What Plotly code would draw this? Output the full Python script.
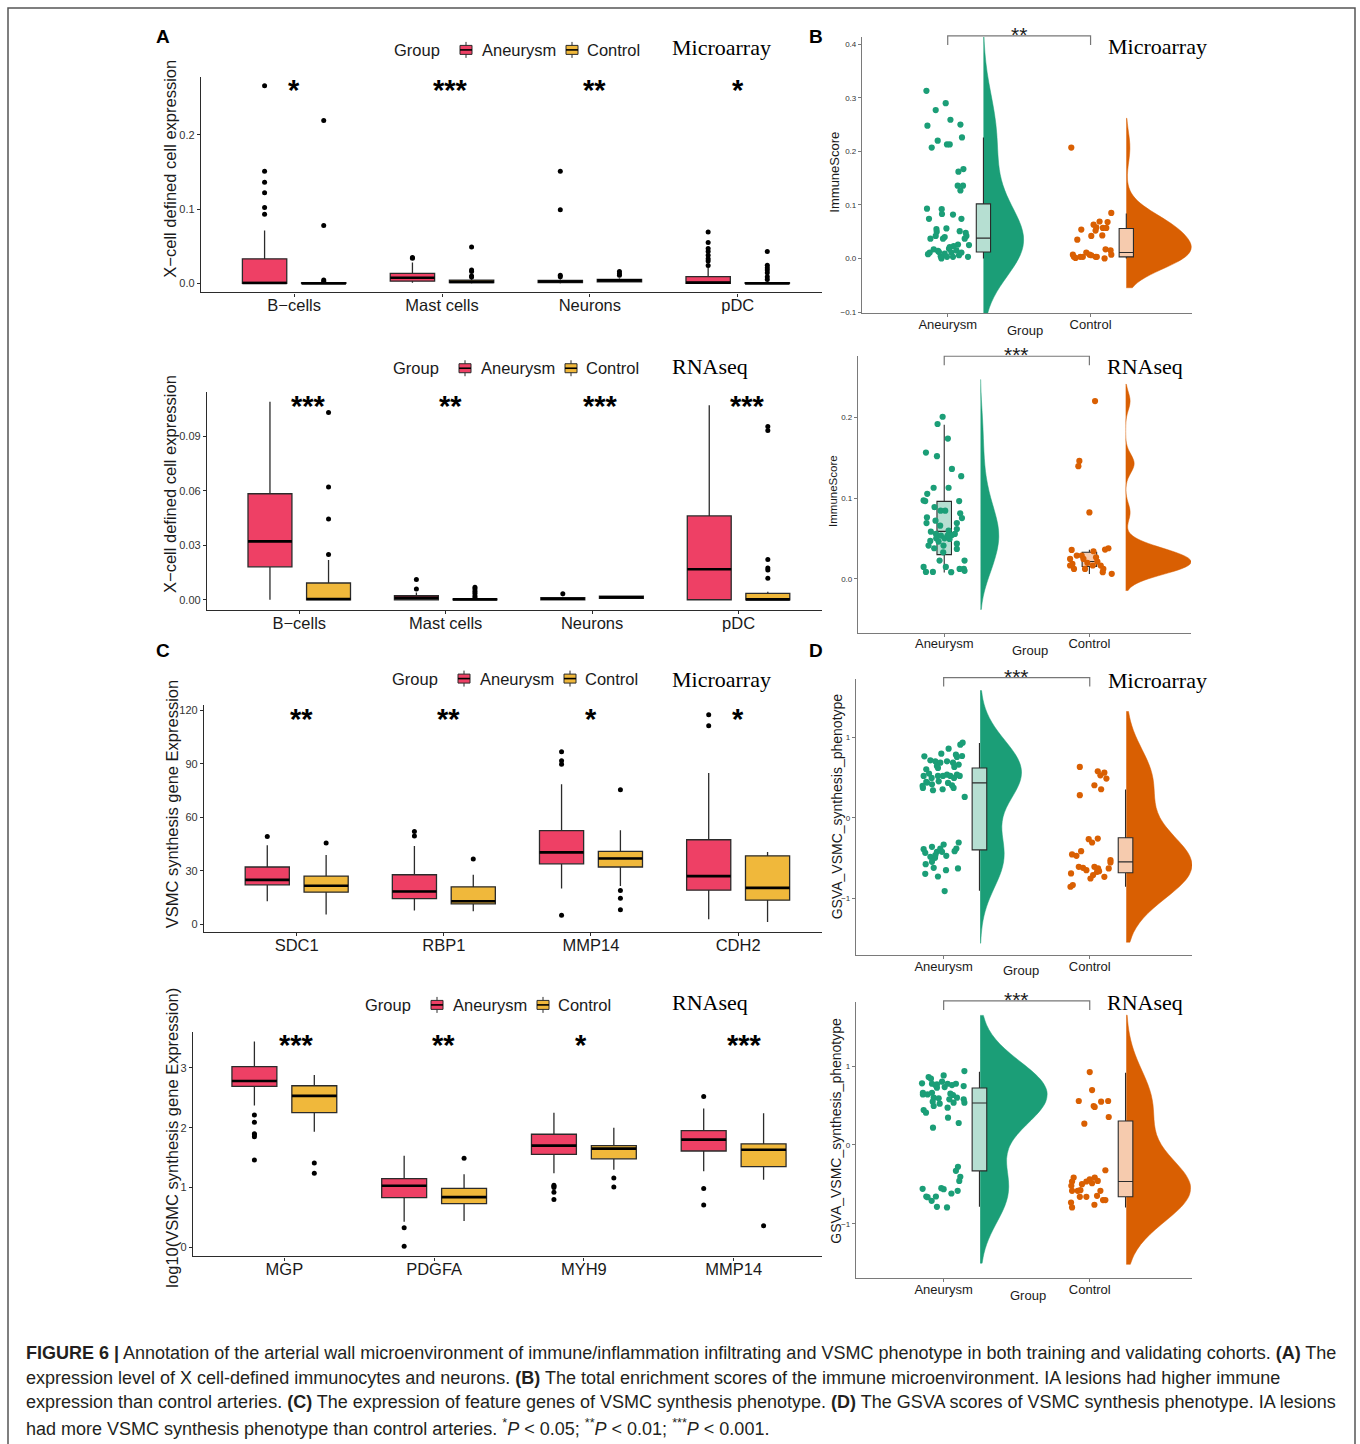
import numpy as np
import plotly.graph_objects as go

# ======================= DATA =======================
# Box panels: each group stat tuple = (lower whisker, q1, median, q3, upper whisker)
A1_CATS = ["B−cells", "Mast cells", "Neurons", "pDC"]
A1_AN = [(0.0, 0.0, 0.0005, 0.033, 0.071), (0.001, 0.003, 0.0076, 0.0134, 0.028),
         (0.0, 0.001, 0.0025, 0.004, 0.0055), (0.0, 0.0, 0.001, 0.009, 0.0215)]
A1_AN_OUT = [[0.266, 0.151, 0.136, 0.122, 0.102, 0.093], [0.035, 0.034],
             [0.151, 0.099, 0.011, 0.009], [0.069, 0.055, 0.047, 0.043, 0.038, 0.033, 0.030, 0.024]]
A1_CT = [(0.0, 0.0, 0.0, 0.001, 0.002), (0.0, 0.001, 0.002, 0.0045, 0.007),
         (0.0015, 0.0022, 0.004, 0.0054, 0.007), (0.0, 0.0, 0.0, 0.001, 0.002)]
A1_CT_OUT = [[0.219, 0.078, 0.0045, 0.003], [0.049, 0.018, 0.016, 0.010, 0.0085],
             [0.016, 0.013, 0.011], [0.043, 0.0245, 0.021, 0.018, 0.0143, 0.009, 0.0054]]
A1_SIG = ["*", "***", "**", "*"]
A1_YTICKS = [0.0, 0.1, 0.2]

A2_CATS = ["B−cells", "Mast cells", "Neurons", "pDC"]
A2_AN = [(0.0, 0.0181, 0.0321, 0.0583, 0.109), (0.0, 0.0, 0.0011, 0.0022, 0.004),
         (0.0, 0.0, 0.0005, 0.0011, 0.0016), (0.0, 0.0, 0.0168, 0.0461, 0.107)]
A2_AN_OUT = [[], [0.0112, 0.0059], [0.0033], []]
A2_CT = [(0.0, 0.0, 0.0004, 0.0092, 0.0219), (0.0, 0.0, 0.0002, 0.0005, 0.001),
         (0.0007, 0.0007, 0.0013, 0.002, 0.0022), (0.0, 0.0, 0.0002, 0.0035, 0.0044)]
A2_CT_OUT = [[0.103, 0.062, 0.0444, 0.0249], [0.0068, 0.0059, 0.0046, 0.0035, 0.0022, 0.0012],
             [], [0.0953, 0.0931, 0.0221, 0.0175, 0.0164, 0.0118]]
A2_SIG = ["***", "**", "***", "***"]
A2_YTICKS = [0.0, 0.03, 0.06, 0.09]

C1_CATS = ["SDC1", "RBP1", "MMP14", "CDH2"]
C1_AN = [(12.9, 22.1, 24.9, 32.1, 44.3), (7.7, 14.4, 18.4, 27.75, 43.9),
         (20.1, 33.9, 40.3, 52.5, 78.6), (2.8, 19.1, 27.0, 47.4, 84.9)]
C1_AN_OUT = [[49.3], [52.1, 49.5], [96.75, 91.7, 89.8, 5.1], [117.6, 111.4]]
C1_CT = [(5.4, 18.0, 21.6, 27.0, 38.8), (7.3, 11.4, 12.9, 21.0, 27.75),
         (21.4, 32.1, 36.9, 40.9, 52.7), (1.3, 13.5, 20.4, 38.4, 40.5)]
C1_CT_OUT = [[45.6], [36.6], [75.4, 18.9, 14.6, 8.1], []]
C1_SIG = ["**", "**", "*", "*"]
C1_YTICKS = [0, 30, 60, 90, 120]

C2_CATS = ["MGP", "PDGFA", "MYH9", "MMP14"]
C2_AN = [(2.37, 2.69, 2.78, 3.02, 3.44), (0.43, 0.83, 1.03, 1.15, 1.53),
         (1.24, 1.555, 1.70, 1.89, 2.25), (1.27, 1.61, 1.80, 1.95, 2.32)]
C2_AN_OUT = [[2.21, 2.09, 1.90, 1.88, 1.85, 1.46], [0.33, 0.02],
             [1.04, 1.02, 1.00, 0.92, 0.80], [2.52, 0.985, 0.71]]
C2_CT = [(1.93, 2.25, 2.53, 2.70, 2.88), (0.44, 0.73, 0.84, 0.985, 1.22),
         (1.295, 1.48, 1.65, 1.70, 2.0), (1.13, 1.35, 1.63, 1.73, 2.24)]
C2_CT_OUT = [[1.41, 1.24], [1.49], [1.16, 1.01], [0.36]]
C2_SIG = ["***", "**", "*", "***"]
C2_YTICKS = [0, 1, 2, 3]

# Raincloud panels: point values and the horizontal jitter offset of each point
GROUPS = ["Aneurysm", "Control"]

B1_AN_Y = [0.313, 0.248, 0.277, 0.290, 0.259, 0.250, 0.220, 0.207, 0.213, 0.213, 0.226, 0.162, 0.167,
           0.136, 0.136, 0.127, 0.093, 0.074, 0.092, 0.083, 0.082, 0.074, 0.055, 0.050, 0.056, 0.051,
           0.048, 0.037, 0.042, 0.037, 0.040, 0.042, 0.037, 0.026, 0.025, 0.011, 0.008, 0.017, 0.014,
           0.004, 0.000, 0.009, 0.003, 0.018, 0.011, 0.003, 0.015, 0.006, 0.011, 0.003, 0.012, 0.021, 0.023]
B1_AN_DX = [-0.149, -0.142, -0.084, -0.014, 0.019, 0.089, -0.070, -0.112, -0.005, 0.014, 0.100, 0.075, 0.110,
            0.070, 0.107, 0.089, -0.145, -0.131, -0.042, -0.040, 0.037, 0.096, -0.079, -0.077, -0.009, 0.084,
            0.126, -0.121, -0.084, -0.033, -0.021, 0.131, 0.119, 0.072, 0.149, -0.126, -0.138, -0.098, -0.068,
            -0.049, -0.044, -0.021, -0.005, 0.009, 0.026, 0.037, 0.061, 0.079, 0.096, 0.142, -0.061, 0.014, 0.042]
B1_CT_Y = [0.207, 0.035, 0.054, 0.042, 0.052, 0.063, 0.069, 0.057, 0.057, 0.068, 0.085, 0.058, 0.043, 0.017,
           0.015, 0.007, 0.007, 0.003, 0.003, 0.003, 0.011, 0.007, 0.003, 0.003, 0.000, 0.001, 0.006]
B1_CT_DX = [-0.135, -0.093, -0.065, 0.005, 0.035, 0.021, 0.063, 0.086, 0.110, 0.119, 0.145, 0.040, 0.082, 0.105,
            0.140, 0.145, -0.124, -0.117, -0.072, -0.054, -0.030, -0.007, 0.035, 0.044, 0.098, -0.105, 0.005]
B1_BOX = [(0.0, 0.012, 0.038, 0.102, 0.226), (0.0, 0.003, 0.011, 0.056, 0.084)]
B1_SIG = "**"
B1_YTICKS = [-0.1, 0.0, 0.1, 0.2, 0.3, 0.4]

B2_AN_Y = [0.2008, 0.1918, 0.1737, 0.1564, 0.1519, 0.1362, 0.1272, 0.1128, 0.1128, 0.1053, 0.0971, 0.0963,
           0.0963, 0.0889, 0.0844, 0.0844, 0.0761, 0.0811, 0.0753, 0.0691, 0.0720, 0.0691, 0.0584, 0.0556,
           0.0597, 0.0617, 0.0535, 0.0543, 0.0556, 0.0502, 0.0461, 0.0502, 0.0494, 0.0469, 0.0379, 0.0370,
           0.0412, 0.0329, 0.0226, 0.0226, 0.0148, 0.0148, 0.0123, 0.0123, 0.0086, 0.0086, 0.0082, 0.0099,
           0.0535, 0.0658, 0.0412, 0.0436]
B2_AN_DX = [-0.011, -0.046, 0.025, -0.126, -0.050, 0.053, 0.117, -0.073, 0.030, -0.117, -0.142, -0.131,
            0.103, -0.067, -0.025, 0.007, -0.119, 0.110, 0.122, -0.122, -0.060, 0.087, -0.092, -0.057,
            0.030, 0.087, -0.023, 0.053, 0.073, -0.055, -0.039, 0.002, 0.037, -0.096, -0.069, 0.087,
            -0.005, -0.007, -0.032, 0.140, -0.142, 0.011, 0.106, 0.135, -0.126, -0.078, 0.048, 0.140,
            0.023, -0.028, -0.108, 0.087]
B2_CT_Y = [0.2202, 0.1461, 0.1395, 0.0823, 0.0358, 0.0247, 0.0185, 0.0123, 0.0288, 0.0288, 0.0247, 0.0198,
           0.0342, 0.0267, 0.0214, 0.0165, 0.0123, 0.0362, 0.0379, 0.0082, 0.0062, 0.0165, 0.0123, 0.0165]
B2_CT_DX = [0.039, -0.069, -0.076, 0.0, -0.122, -0.133, -0.117, -0.106, -0.087, -0.053, -0.041, -0.014,
            0.028, 0.046, 0.055, 0.078, 0.096, 0.108, 0.131, 0.092, 0.154, 0.023, -0.030, -0.133]
B2_BOX = [(0.008, 0.030, 0.0588, 0.0959, 0.191), (0.006, 0.0152, 0.0214, 0.0329, 0.036)]
B2_SIG = "***"
B2_YTICKS = [0.0, 0.1, 0.2]

D1_AN_Y = [0.766, 0.716, 0.704, 0.799, 0.861, 0.787, 0.911, 0.936, 0.770, 0.758, 0.687, 0.704, 0.687, 0.646,
           0.621, 0.605, 0.522, 0.551, 0.497, 0.447, 0.418, 0.522, 0.522, 0.538, 0.522, 0.497, 0.538, 0.522,
           0.398, 0.373, 0.439, 0.344, 0.455, 0.356, 0.435, 0.406, 0.373, 0.261, 0.634, 0.663,
           -0.389, -0.435, -0.360, -0.422, -0.381, -0.331, -0.306, -0.381, -0.414, -0.472, -0.484, -0.497,
           -0.576, -0.547, -0.696, -0.729, -0.621, -0.650, -0.629, -0.911, -0.422, -0.464]
D1_AN_DX = [-0.132, -0.091, -0.057, -0.016, 0.034, 0.084, 0.114, 0.130, 0.126, 0.091, 0.064, 0.023, -0.023,
            -0.046, -0.039, -0.119, -0.137, -0.100, -0.082, -0.119, -0.080, -0.039, -0.005, 0.023, 0.046,
            0.071, 0.091, 0.110, -0.144, -0.142, -0.114, -0.073, -0.034, -0.007, 0.030, 0.057, 0.068, 0.144,
            0.073, 0.103,
            -0.137, -0.126, -0.080, -0.046, -0.023, 0.0, 0.103, 0.087, 0.075, 0.018, -0.091, -0.059, -0.123,
            -0.080, -0.126, -0.039, -0.068, 0.016, 0.098, 0.007, -0.011, -0.057]
D1_CT_Y = [0.634, 0.282, 0.406, 0.580, 0.530, 0.563, 0.356, 0.489, -0.265, -0.306, -0.257, -0.455, -0.472,
           -0.414, -0.609, -0.621, -0.650, -0.609, -0.671, -0.629, -0.733, -0.526, -0.555, -0.857, -0.836,
           -0.691, -0.712, -0.754, -0.663, -0.629]
D1_CT_DX = [-0.068, -0.068, 0.032, 0.055, 0.073, 0.100, 0.078, 0.114, -0.007, 0.016, 0.055, -0.121, -0.091,
            -0.059, -0.075, -0.046, -0.023, 0.032, 0.050, 0.057, 0.100, 0.142, 0.142, -0.132, -0.116, -0.128,
            0.023, 0.005, 0.064, 0.130]
D1_BOX = [(-0.907, -0.398, 0.435, 0.621, 0.932), (-0.857, -0.683, -0.547, -0.248, 0.352)]
D1_SIG = "***"
D_YTICKS = [-1, 0, 1]

D2_AN_Y = [0.937, 0.882, 0.861, 0.840, 0.781, 0.776, 0.768, 0.802, 0.776, 0.759, 0.776, 0.747, 0.726, 0.759,
           0.734, 0.662, 0.641, 0.641, 0.662, 0.599, 0.591, 0.549, 0.523, 0.650, 0.633, 0.599, 0.578, 0.536,
           0.536, 0.578, 0.494, 0.473, 0.443, 0.409, 0.346, 0.278, 0.219,
           -0.278, -0.329, -0.405, -0.456, -0.582, -0.616, -0.561, -0.549, -0.557, -0.654, -0.654, -0.709,
           -0.785, -0.793, -0.662]
D2_AN_DX = [0.142, 0.0, -0.103, -0.087, -0.148, -0.080, -0.046, -0.011, 0.027, 0.057, 0.084, 0.137, -0.046,
            -0.057, 0.007, -0.142, -0.142, -0.110, -0.080, -0.068, -0.034, -0.075, -0.027, 0.046, 0.064,
            0.091, 0.137, 0.142, 0.068, 0.039, -0.068, 0.027, -0.137, -0.121, 0.030, 0.103, -0.073,
            0.098, 0.084, 0.114, 0.107, 0.096, 0.053, 0.0, -0.016, -0.144, -0.119, -0.053, -0.082, -0.046,
            0.023, -0.110]
D2_CT_Y = [0.924, 0.696, 0.557, 0.494, 0.481, 0.549, 0.557, 0.354, 0.270, -0.321, -0.414, -0.464, -0.498,
           -0.464, -0.435, -0.485, -0.414, -0.456, -0.582, -0.646, -0.700, -0.700, -0.582, -0.658, -0.658,
           -0.582, -0.730, -0.793, -0.759, -0.574, -0.519]
D2_CT_DX = [0.0, 0.016, -0.075, 0.027, 0.034, 0.078, 0.126, 0.130, -0.037, 0.107, -0.110, -0.121, -0.053,
            -0.023, 0.0, 0.016, 0.034, 0.055, 0.073, 0.050, 0.091, 0.107, -0.082, -0.068, -0.023, -0.121,
            -0.128, -0.121, 0.032, -0.064, -0.126]
D2_BOX = [(-0.785, -0.329, 0.532, 0.722, 0.928), (-0.793, -0.658, -0.464, 0.304, 0.916)]
D2_SIG = "***"

CAPTION = [
    "<b>FIGURE 6 |</b> Annotation of the arterial wall microenvironment of immune/inflammation infiltrating "
    "and VSMC phenotype in both training and validating cohorts. <b>(A)</b> The",
    "expression level of X cell-defined immunocytes and neurons. <b>(B)</b> The total enrichment scores of the "
    "immune microenvironment. IA lesions had higher immune",
    "expression than control arteries. <b>(C)</b> The expression of feature genes of VSMC synthesis phenotype. "
    "<b>(D)</b> The GSVA scores of VSMC synthesis phenotype. IA lesions",
    "had more VSMC synthesis phenotype than control arteries. <sup>*</sup><i>P</i> &lt; 0.05; "
    "<sup>**</sup><i>P</i> &lt; 0.01; <sup>***</sup><i>P</i> &lt; 0.001.",
]

# ======================= STYLE =======================
W, H = 1360, 1444
RED, YEL = "#EE4065", "#F0B83B"
GRN, ORG = "#1B9E77", "#D95F02"
GRN_L, ORG_L = "#B6DFD2", "#F6CBAE"
SANS, SERIF = "Liberation Sans", "Liberation Serif"
INK = "#1a1a1a"
BW_ADJUST = 1.6          # smoothing of the half violins


def px(x):
    return x / W


def py(y):
    return 1 - y / H


fig = go.Figure()
annotations = []
shapes = []


def axname(k):
    return "" if k == 1 else str(k)


# ---------------- grouped box panels (A, C) ----------------
def box_panel(k, cats, an, an_out, ct, ct_out, sig, star_y, star_dx):
    s = axname(k)
    xa, ya = "x" + s, "y" + s
    for stats, outs, col in [(an, an_out, RED), (ct, ct_out, YEL)]:
        off = -0.2 if col == RED else 0.2
        pos = [i + off for i in range(len(cats))]
        lo, q1, med, q3, hi = [list(v) for v in zip(*stats)]
        fig.add_trace(go.Box(x=pos, lowerfence=lo, q1=q1, median=med, q3=q3, upperfence=hi,
                             width=0.3, fillcolor=col, line=dict(color="#2b2b2b", width=1.3),
                             whiskerwidth=0, boxpoints=False, xaxis=xa, yaxis=ya,
                             showlegend=False, hoverinfo="skip"))
        mx, my = [], []
        for p, m in zip(pos, med):
            mx += [p - 0.15, p + 0.15, None]
            my += [m, m, None]
        fig.add_trace(go.Scatter(x=mx, y=my, mode="lines", line=dict(color="black", width=2.6),
                                 xaxis=xa, yaxis=ya, showlegend=False, hoverinfo="skip"))
        ox, oy = [], []
        for p, o in zip(pos, outs):
            ox += [p] * len(o)
            oy += o
        fig.add_trace(go.Scatter(x=ox, y=oy, mode="markers", marker=dict(color="black", size=5),
                                 xaxis=xa, yaxis=ya, showlegend=False, hoverinfo="skip"))
    for i, t in enumerate(sig):
        annotations.append(dict(x=i + star_dx[i], y=py(star_y + 7), xref=xa, yref="paper",
                                text="<b>%s</b>" % t, showarrow=False,
                                font=dict(family=SANS, size=29, color="black"),
                                xanchor="center", yanchor="middle"))


def nrd0(v):
    v = np.asarray(v, dtype=float)
    q75, q25 = np.percentile(v, [75, 25])
    return 0.9 * min(v.std(ddof=1), (q75 - q25) / 1.34) * len(v) ** -0.2


# ---------------- raincloud panels (B, D) ----------------
def rain_panel(k, an_y, an_dx, ct_y, ct_dx, boxes, box_off, vio_half, sig, star_y, br_y):
    s = axname(k)
    xa, ya = "x" + s, "y" + s
    sets = [(an_y, an_dx, GRN, GRN_L), (ct_y, ct_dx, ORG, ORG_L)]
    for gi, (vals, dx, col, light) in enumerate(sets):
        base = gi + 1
        bw = nrd0(vals)
        fig.add_trace(go.Violin(y=vals, x0=base + 0.25, side="positive", width=2 * vio_half[gi],
                                bandwidth=bw * BW_ADJUST, spanmode="manual",
                                span=[min(vals) - 3 * bw, max(vals) + 3 * bw],
                                fillcolor=col, line=dict(color=col, width=0.5), points=False,
                                box_visible=False, meanline_visible=False, orientation="v",
                                xaxis=xa, yaxis=ya, showlegend=False, hoverinfo="skip"))
        lo, q1, med, q3, hi = boxes[gi]
        fig.add_trace(go.Box(x=[base + box_off], lowerfence=[lo], q1=[q1], median=[med], q3=[q3],
                             upperfence=[hi], width=0.1, fillcolor=light,
                             line=dict(color="#2b2b2b", width=1.1), whiskerwidth=0, boxpoints=False,
                             xaxis=xa, yaxis=ya, showlegend=False, hoverinfo="skip"))
        fig.add_trace(go.Scatter(x=[base + d for d in dx], y=vals, mode="markers",
                                 marker=dict(color=col, size=6.2), xaxis=xa, yaxis=ya,
                                 showlegend=False, hoverinfo="skip"))
    shapes.append(dict(type="path", xref=xa, yref="paper",
                       path="M 1,%f L 1,%f L 2,%f L 2,%f" % (py(br_y + 9), py(br_y), py(br_y), py(br_y + 9)),
                       line=dict(color="#777777", width=1.2)))
    annotations.append(dict(x=1.5, y=py(star_y + 5), xref=xa, yref="paper", text=sig, showarrow=False,
                            font=dict(family=SANS, size=21, color=INK), xanchor="center", yanchor="middle"))


box_panel(1, A1_CATS, A1_AN, A1_AN_OUT, A1_CT, A1_CT_OUT, A1_SIG, 83, [0.0, 0.06, 0.03, 0.0])
box_panel(2, A2_CATS, A2_AN, A2_AN_OUT, A2_CT, A2_CT_OUT, A2_SIG, 400, [0.06, 0.03, 0.06, 0.06])
box_panel(3, C1_CATS, C1_AN, C1_AN_OUT, C1_CT, C1_CT_OUT, C1_SIG, 713, [0.03, 0.03, 0.0, 0.0])
box_panel(4, C2_CATS, C2_AN, C2_AN_OUT, C2_CT, C2_CT_OUT, C2_SIG, 1040, [0.08, 0.06, -0.02, 0.07])

rain_panel(5, B1_AN_Y, B1_AN_DX, B1_CT_Y, B1_CT_DX, B1_BOX, 0.25, (0.28, 0.455), B1_SIG, 30, 36)
rain_panel(6, B2_AN_Y, B2_AN_DX, B2_CT_Y, B2_CT_DX, B2_BOX, 0.0, (0.126, 0.45), B2_SIG, 350, 357)
rain_panel(7, D1_AN_Y, D1_AN_DX, D1_CT_Y, D1_CT_DX, D1_BOX, 0.245, (0.283, 0.45), D1_SIG, 673, 679)
rain_panel(8, D2_AN_Y, D2_AN_DX, D2_CT_Y, D2_CT_DX, D2_BOX, 0.245, (0.457, 0.438), D2_SIG, 997, 1003)

# ---------------- axes ----------------
AXES = {
    1: dict(x=(201, 822), y=(77, 293), xr=(-0.63, 3.57), yr=(-0.0121, 0.2779), cats=A1_CATS, yt=A1_YTICKS, fmt=".1f"),
    2: dict(x=(207, 822), y=(393, 611), xr=(-0.63, 3.57), yr=(-0.0055, 0.1142), cats=A2_CATS, yt=A2_YTICKS, fmt=".2f"),
    3: dict(x=(204, 822), y=(706, 934), xr=(-0.63, 3.57), yr=(-4.4, 123.3), cats=C1_CATS, yt=C1_YTICKS, fmt="d"),
    4: dict(x=(193, 822), y=(1034, 1259), xr=(-0.61, 3.59), yr=(-0.15, 3.6), cats=C2_CATS, yt=C2_YTICKS, fmt="d"),
    5: dict(x=(862, 1192), y=(37, 314), xr=(0.4, 2.71), yr=(-0.1025, 0.4137), cats=GROUPS, yt=B1_YTICKS, fmt=".1f"),
    6: dict(x=(858, 1191), y=(357, 634), xr=(0.406, 2.70), yr=(-0.0667, 0.2757), cats=GROUPS, yt=B2_YTICKS, fmt=".1f"),
    7: dict(x=(856, 1192), y=(680, 957), xr=(0.4, 2.70), yr=(-1.706, 1.733), cats=GROUPS, yt=D_YTICKS, fmt="d"),
    8: dict(x=(856, 1192), y=(1004, 1281), xr=(0.4, 2.70), yr=(-1.692, 1.814), cats=GROUPS, yt=D_YTICKS, fmt="d"),
}
lay = {}
for k, a in AXES.items():
    s = axname(k)
    box = k <= 4
    xvals = list(range(len(a["cats"]))) if box else [1, 2]
    lc = "#2b2b2b" if box else "#7a7a7a"
    lay["xaxis" + s] = dict(domain=[px(a["x"][0]), px(a["x"][1])], range=list(a["xr"]), anchor="y" + s,
                            type="linear", showgrid=False, zeroline=False, showline=True, linecolor=lc,
                            linewidth=1.3 if box else 1.2, ticks="outside", ticklen=3, tickcolor=lc,
                            tickvals=xvals, ticktext=a["cats"], ticklabelstandoff=-5 if box else -4,
                            tickfont=dict(family=SANS, size=16.5 if box else 13, color=INK))
    lay["yaxis" + s] = dict(domain=[py(a["y"][1]), py(a["y"][0])], range=list(a["yr"]), anchor="x" + s,
                            showgrid=False, zeroline=False, showline=True, linecolor=lc,
                            linewidth=1.3 if box else 1.2, ticks="outside", ticklen=3, tickcolor=lc,
                            tickvals=a["yt"], tickformat=a["fmt"],
                            tickfont=dict(family=SANS, size=11 if box else 8, color="#333333"))


# ---------------- texts ----------------
def txt(x, y, t, size, family=SANS, color=INK, angle=0, xanchor="center"):
    annotations.append(dict(x=px(x), y=py(y), xref="paper", yref="paper", text=t, showarrow=False,
                            textangle=angle, font=dict(family=family, size=size, color=color),
                            xanchor=xanchor, yanchor="middle"))


for letter, x, y in [("A", 163, 37), ("B", 816, 37), ("C", 163, 652), ("D", 816, 652)]:
    txt(x, y, "<b>%s</b>" % letter, 19, color="black")

# y titles
txt(170, 169, "X−cell defined cell expression", 16.5, angle=-90)
txt(170, 485, "X−cell defined cell expression", 16.5, angle=-90)
txt(172, 806, "VSMC synthesis gene Expression", 16.5, angle=-90)
txt(172, 1140, "log10(VSMC synthesis gene Expression)", 16.5, angle=-90)
txt(835, 173, "ImmuneScore", 13, angle=-90)
txt(833, 492, "ImmuneScore", 11.5, angle=-90)
txt(837, 808, "GSVA_VSMC_synthesis_phenotype", 14, angle=-90)
txt(836, 1133, "GSVA_VSMC_synthesis_phenotype", 14, angle=-90)

# x titles of raincloud panels
for x, y in [(1025, 331), (1030, 652), (1021, 973), (1028, 1298)]:
    txt(x, y, "Group", 13)

# dataset tags
for x, y, t in [(721, 48, "Microarray"), (1157, 47, "Microarray"), (710, 367, "RNAseq"),
                (1145, 367, "RNAseq"), (721, 681, "Microarray"), (1157, 682, "Microarray"),
                (710, 1005, "RNAseq"), (1145, 1005, "RNAseq")]:
    txt(x, y, t, 22, family=SERIF, color="black")


# manual legends for box panels
def legend(gx, y):
    txt(gx, y, "Group", 16.5)
    for dx_icon, dx_txt, col, lab in [(49, 63, RED, "Aneurysm"), (155, 168, YEL, "Control")]:
        cx = gx + dx_icon
        shapes.append(dict(type="rect", xref="paper", yref="paper", x0=px(cx - 6), x1=px(cx + 6),
                           y0=py(y + 4.5), y1=py(y - 4.5), fillcolor=col,
                           line=dict(color="#2b2b2b", width=1)))
        for a0, a1 in [(y - 4.5, y - 8), (y + 4.5, y + 8)]:
            shapes.append(dict(type="line", xref="paper", yref="paper", x0=px(cx), x1=px(cx),
                               y0=py(a0), y1=py(a1), line=dict(color="#2b2b2b", width=1)))
        shapes.append(dict(type="line", xref="paper", yref="paper", x0=px(cx - 6), x1=px(cx + 6),
                           y0=py(y), y1=py(y), line=dict(color="black", width=1.6)))
        txt(gx + dx_txt, y, lab, 16.5, xanchor="left")


legend(417, 50)
legend(416, 369)
legend(415, 680)
legend(388, 1007)

# caption
for i, line in enumerate(CAPTION):
    txt(24, 1356 + i * 24.7, line, 18, color="#231f20", xanchor="left")

# frame
shapes.append(dict(type="rect", xref="paper", yref="paper", x0=px(8), x1=px(1355), y0=py(1460), y1=py(8),
                   line=dict(color="#555555", width=1.5), fillcolor="rgba(0,0,0,0)"))

fig.update_layout(width=W, height=H, margin=dict(l=0, r=0, t=0, b=0), autosize=False,
                  paper_bgcolor="white", plot_bgcolor="white", showlegend=False,
                  annotations=annotations, shapes=shapes, **lay)

fig.write_html("out.html", config={"displayModeBar": False},
               post_script="document.body.style.margin='0';")
